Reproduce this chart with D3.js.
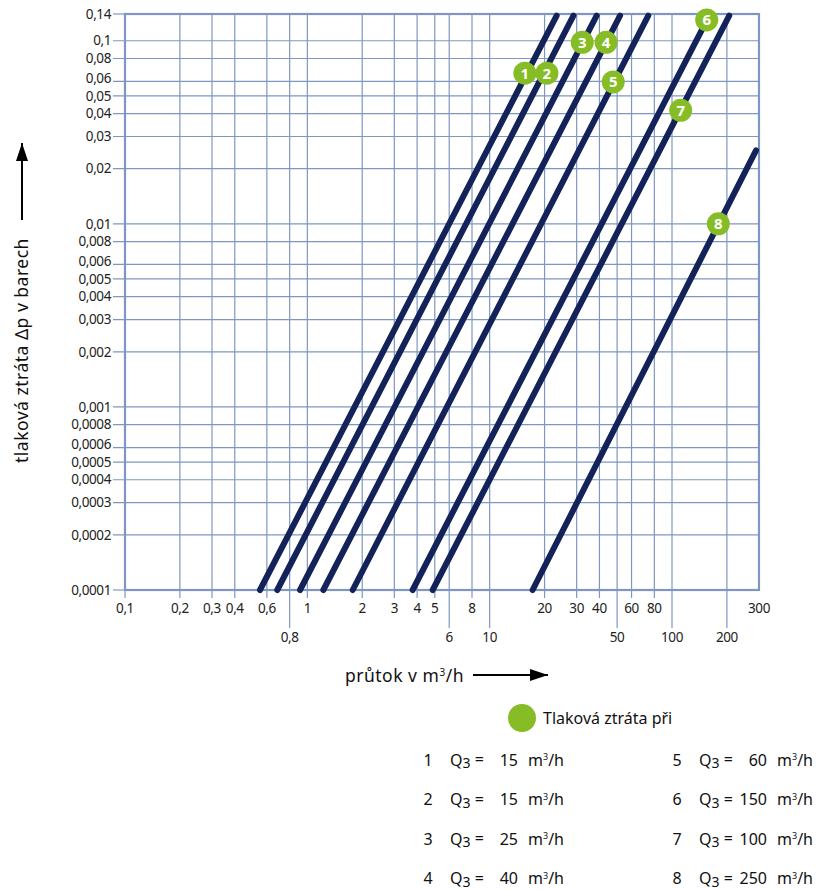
<!DOCTYPE html>
<html>
<head>
<meta charset="utf-8">
<script src="https://cdn.jsdelivr.net/npm/d3@7/dist/d3.min.js"></script>
<style>
  html, body { margin: 0; padding: 0; background: #fff; }
  svg { display: block; font-family: "Noto Sans", "Open Sans", sans-serif; }
</style>
</head>
<body>
<svg id="chart" width="840" height="890"></svg>
<script>
// Flow axis (m³/h) and pressure-loss axis (bar) tick values
const flowTicks = [0.1, 0.2, 0.3, 0.4, 0.6, 0.8, 1, 2, 3, 4, 5, 6, 8, 10, 20, 30, 40, 50, 60, 80, 100, 200, 300];
const flowLowerRow = [0.8, 6, 10, 50, 100, 200];
const dpTicks = [0.14, 0.1, 0.08, 0.06, 0.05, 0.04, 0.03, 0.02, 0.01, 0.008, 0.006, 0.005, 0.004, 0.003, 0.002,
                 0.001, 0.0008, 0.0006, 0.0005, 0.0004, 0.0003, 0.0002, 0.0001];

// Pressure-loss curves: start and end points (flow, Δp)
const curveIds  = [1, 2, 3, 4, 5, 6, 7, 8];
const flowStart = [0.55, 0.684, 0.912, 1.224, 1.774, 3.78, 4.87, 17.2];
const flowEnd   = [23.3, 28.8, 38.6, 51.9, 74.1, 160, 206, 289];
const dpStart   = [0.0001, 0.0001, 0.0001, 0.0001, 0.0001, 0.0001, 0.0001, 0.0001];
const dpEnd     = [0.137, 0.137, 0.137, 0.137, 0.137, 0.137, 0.137, 0.0252];

// Numbered markers on the curves (flow, Δp)
const markerFlow = [15.6, 20.6, 32.2, 43.5, 47.6, 155, 111.6, 179.5];
const markerDp   = [0.0665, 0.0665, 0.098, 0.098, 0.0596, 0.13, 0.0417, 0.01];

// Legend: nominal flow Q3 of each meter
const legendIds = [1, 2, 3, 4, 5, 6, 7, 8];
const legendQ3  = [15, 15, 25, 40, 60, 150, 100, 250];

const navy = "#14225a";
const green = "#86bc25";
const grid = "#7f97c0";

const svg = d3.select("#chart");
const x = d3.scaleLog().domain([0.1, 300]).range([125, 759]);
const y = d3.scaleLog().domain([0.0001, 0.14]).range([590, 14]);
const fmt = d => String(d).replace(".", ",");
// the "6" labels crowd the "5" labels below them, so lift them a little
const mantissa = d => Math.round(d / Math.pow(10, Math.floor(Math.log10(d) + 1e-9)));
const labelShift = d => mantissa(d) === 6 ? -3.5 : 0;

const [x0, x1] = x.range();
const [yB, yT] = y.range();

// grid
const g = svg.append("g");
g.selectAll("line.hx").data(dpTicks.filter(d => d !== 0.14 && d !== 0.0001)).join("line")
  .attr("x1", x0 - 12).attr("x2", x1).attr("y1", d => y(d)).attr("y2", d => y(d))
  .attr("stroke", grid).attr("stroke-width", 1.2);
g.selectAll("line.vx").data(flowTicks.filter(d => d !== 0.1 && d !== 300)).join("line")
  .attr("x1", d => x(d)).attr("x2", d => x(d)).attr("y1", yT).attr("y2", yB)
  .attr("stroke", grid).attr("stroke-width", 1.2);

// frame
g.append("rect").attr("x", x0).attr("y", yT).attr("width", x1 - x0).attr("height", yB - yT)
  .attr("fill", "none").attr("stroke", grid).attr("stroke-width", 2.2);
g.selectAll("line.edge").data([0.14, 0.0001]).join("line")
  .attr("x1", x0 - 12).attr("x2", x0).attr("y1", d => y(d)).attr("y2", d => y(d))
  .attr("stroke", grid).attr("stroke-width", 1.2);

// x ticks
g.selectAll("line.xt").data(flowTicks.filter(d => d !== 300)).join("line")
  .attr("x1", d => x(d)).attr("x2", d => x(d)).attr("y1", yB)
  .attr("y2", d => flowLowerRow.includes(d) ? yB + 38 : yB + 8)
  .attr("stroke", grid).attr("stroke-width", 1.2);

// y labels
svg.append("g").selectAll("text").data(dpTicks).join("text")
  .attr("x", x0 - 14).attr("y", d => y(d) + labelShift(d)).attr("dy", "0.35em")
  .attr("text-anchor", "end").attr("font-size", 13.5).attr("letter-spacing", -0.4)
  .attr("fill", "#222").text(fmt);

// x labels
svg.append("g").selectAll("text").data(flowTicks).join("text")
  .attr("x", d => x(d)).attr("y", d => flowLowerRow.includes(d) ? yB + 47 : yB + 18)
  .attr("dy", "0.35em").attr("text-anchor", "middle").attr("font-size", 13.5).attr("letter-spacing", -0.4)
  .attr("fill", "#222").text(fmt);

// curves
const curves = curveIds.map((id, i) => ({ id, pts: [[flowStart[i], dpStart[i]], [flowEnd[i], dpEnd[i]]] }));
const line = d3.line().x(d => x(d[0])).y(d => y(d[1]));
svg.append("g").selectAll("path").data(curves).join("path")
  .attr("d", d => line(d.pts)).attr("fill", "none").attr("stroke", navy)
  .attr("stroke-width", 6).attr("stroke-linecap", "round");

// markers
const mk = svg.append("g").selectAll("g").data(curveIds).join("g")
  .attr("transform", (d, i) => `translate(${x(markerFlow[i])},${y(markerDp[i])})`);
mk.append("circle").attr("r", 11.5).attr("fill", green);
mk.append("text").attr("text-anchor", "middle").attr("dy", "0.36em")
  .attr("font-size", 15).attr("font-weight", "bold").attr("fill", "#fff").text(d => d);

// arrowhead
svg.append("defs").append("marker").attr("id", "arrow").attr("viewBox", "0 0 18 12")
  .attr("refX", 18).attr("refY", 6).attr("markerWidth", 18).attr("markerHeight", 12)
  .attr("markerUnits", "userSpaceOnUse").attr("orient", "auto")
  .append("path").attr("d", "M0,0 L18,6 L0,12 Z").attr("fill", "#000");

// axis titles
const title = svg.append("g").attr("font-size", 17.5).attr("letter-spacing", 0.5).attr("fill", "#111");
const xt = title.append("text").attr("x", 345).attr("y", 676).attr("dy", "0.35em");
xt.append("tspan").text("průtok v  m");
xt.append("tspan").attr("font-size", 10).attr("dy", "-0.6em").text("3");
xt.append("tspan").attr("dy", "0.35em").text("/h");
svg.append("line").attr("x1", 473).attr("x2", 548).attr("y1", 675).attr("y2", 675)
  .attr("stroke", "#000").attr("stroke-width", 2).attr("marker-end", "url(#arrow)");

title.append("text").attr("transform", "translate(22,463) rotate(-90)").attr("dy", "0.35em")
  .text("tlaková ztráta Δp v  barech");
svg.append("line").attr("x1", 22).attr("x2", 22).attr("y1", 220).attr("y2", 143)
  .attr("stroke", "#000").attr("stroke-width", 2).attr("marker-end", "url(#arrow)");

// legend
const lg = svg.append("g").attr("font-size", 16).attr("fill", "#111");
lg.append("circle").attr("cx", 522).attr("cy", 718).attr("r", 14).attr("fill", green);
lg.append("text").attr("x", 543).attr("y", 718).attr("dy", "0.35em").text("Tlaková ztráta při");

const rows = lg.selectAll("g.row").data(legendIds).join("g")
  .attr("transform", (d, i) => `translate(${i < 4 ? 0 : 249},${760 + (i % 4) * 39.5})`);
rows.append("text").attr("x", 428).attr("dy", "0.35em").attr("text-anchor", "middle").text(d => d);
const qt = rows.append("text").attr("x", 450).attr("dy", "0.35em");
qt.append("tspan").text("Q");
qt.append("tspan").attr("font-size", 14).attr("dy", "0.2em").text("3");
qt.append("tspan").attr("dy", "-0.2em").text(" =");
rows.append("text").attr("x", 518).attr("dy", "0.35em").attr("text-anchor", "end")
  .text((d, i) => legendQ3[i]);
const ut = rows.append("text").attr("x", 528).attr("dy", "0.35em");
ut.append("tspan").text("m");
ut.append("tspan").attr("font-size", 9).attr("dy", "-0.6em").text("3");
ut.append("tspan").attr("dy", "0.35em").text("/h");
</script>
</body>
</html>
